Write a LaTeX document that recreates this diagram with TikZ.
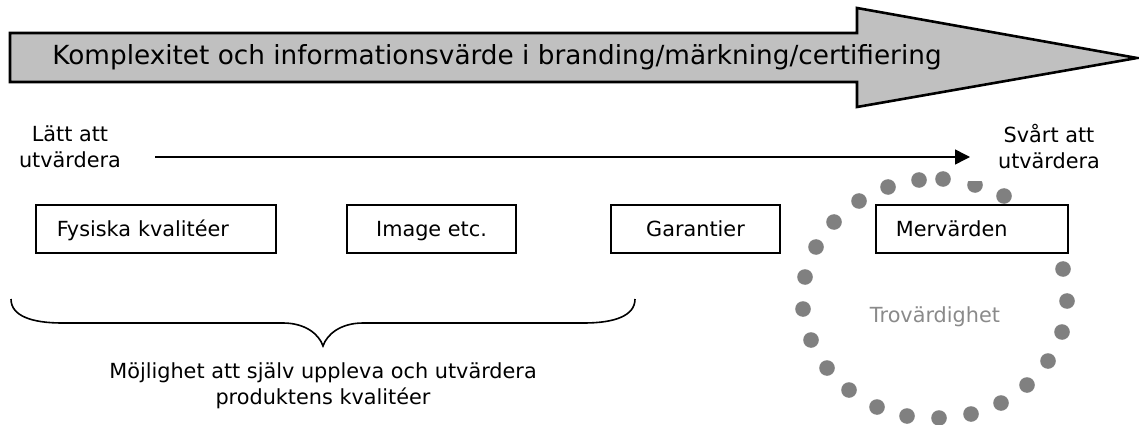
\documentclass[tikz,border=0pt]{standalone}
\usepackage{fontspec}
\setmainfont{DejaVu Sans}
\usetikzlibrary{arrows.meta}
\definecolor{bandgray}{HTML}{C0C0C0}
\definecolor{dotgray}{HTML}{808080}
\definecolor{softgray}{HTML}{8A8A8A}
\begin{document}
\begin{tikzpicture}[x=1pt,y=-1pt,
  txt/.style={font=\fontsize{20.8}{26}\selectfont, inner sep=0pt},
  qbox/.style={draw=black, line width=1.8pt, fill=white, minimum height=48pt,
    inner ysep=0pt, text height=15pt, text depth=1pt,
    font=\fontsize{20.8}{26}\selectfont},
  dot/.style={fill=dotgray, draw=none}]
\useasboundingbox (0,0) rectangle (1139,425);

% big block arrow with its caption
\draw[line width=2.6pt, fill=bandgray, line join=miter]
  (10,33) -- (857,33) -- (857,8) -- (1137,58) -- (857,107) -- (857,82) -- (10,82) -- cycle;
\node[inner sep=0pt, anchor=base, font=\fontsize{26.3}{30}\selectfont] (title) at (497,65)
  {Komplexitet och informationsvärde i branding/märkning/certifiering};

% scale from easy to hard to evaluate
\node[txt, align=center] (easy) at (70,147) {Lätt att\\utvärdera};
\node[txt, align=center] (hard) at (1049,147) {Svårt att\\utvärdera};
\coordinate (scaleA) at (155,157);
\coordinate (scaleB) at (970,157);
\draw[line width=1.5pt, -{Triangle[length=15pt,width=15pt]}] (scaleA) -- (scaleB);

% dotted ring of credibility
\foreach \px/\py in {1067/301,1063/269,1004/196,943/179,919/180,888/187,859/201,
  834/222,816/247,805/277,803/309,811/340,827/368,849/390,877/407,907/416,
  939/418,971/414,1001/403,1027/385,1048/361,1062/332}
  \fill[dot] (\px,\py) circle (7.8);
\begin{scope}
  \clip (960,181) rectangle (992,200);
  \fill[dot] (975,185) circle (7.8);
\end{scope}
\node[inner sep=0pt, anchor=base, text=softgray, font=\fontsize{20.8}{26}\selectfont]
  (trust) at (935,322) {Trovärdighet};

% the four kinds of quality
\node[qbox, anchor=west, text width=198pt, align=left, inner xsep=21pt] (phys) at (35,229) {Fysiska kvalitéer};
\node[qbox, minimum width=169pt] (image) at (431.5,229) {Image etc.};
\node[qbox, minimum width=169pt] (guar) at (695.5,229) {Garantier};
\node[qbox, anchor=west, text width=152pt, align=left, inner xsep=20pt] (extra) at (875,229) {Mervärden};

% brace under the first three
\coordinate (braceL) at (11,299);
\coordinate (braceR) at (635,299);
\coordinate (braceTip) at (323,346);
\draw[line width=1.6pt]
  (braceL) .. controls (11,316) and (32,323) .. (62,323) -- (283,323)
  .. controls (305,323) and (319,334) .. (braceTip)
  .. controls (327,334) and (341,323) .. (363,323) -- (584,323)
  .. controls (614,323) and (635,316) .. (braceR);
\node[txt, align=center, anchor=north] (self) at (323,362)
  {Möjlighet att själv uppleva och utvärdera\\produktens kvalitéer};
\end{tikzpicture}
\end{document}
